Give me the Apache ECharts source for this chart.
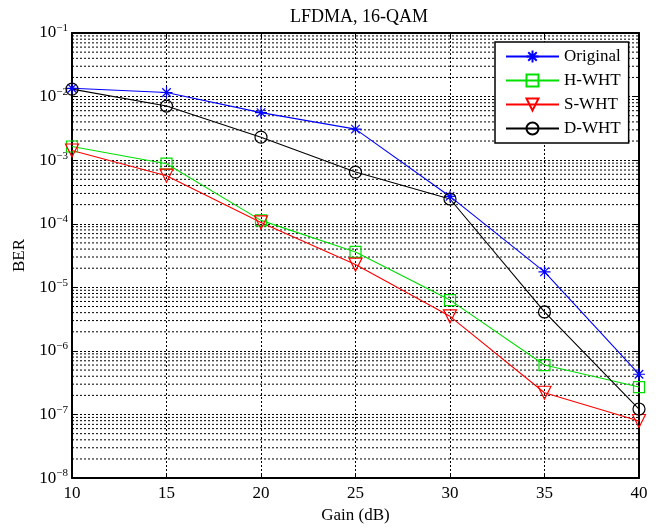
<!DOCTYPE html>
<html>
<head>
<meta charset="utf-8">
<script src="https://cdn.jsdelivr.net/npm/echarts@6/dist/echarts.min.js"></script>
<style>html,body{margin:0;padding:0;background:#fff;}#c{width:657px;height:529px;}</style>
</head>
<body>
<div id="c"></div>
<script>
const gain = [10, 15, 20, 25, 30, 35, 40];
const original = [1.35e-2, 1.16e-2, 5.6e-3, 3.08e-3, 2.69e-4, 1.75e-5, 4.3e-7];
const hWHT = [1.64e-3, 8.8e-4, 1.13e-4, 3.6e-5, 6.3e-6, 6.0e-7, 2.7e-7];
const sWHT = [1.42e-3, 5.7e-4, 1.05e-4, 2.28e-5, 3.5e-6, 2.2e-7, 7.9e-8];
const dWHT = [1.31e-2, 7.1e-3, 2.3e-3, 6.5e-4, 2.45e-4, 4.1e-6, 1.22e-7];
const seriesNames = ['Original', 'H-WHT', 'S-WHT', 'D-WHT'];
const xTicks = [10, 15, 20, 25, 30, 35, 40];
const yExpMin = -8, yExpMax = -1;

const FONT = 'Liberation Serif';
const pair = (arr) => gain.map((g, i) => [g, arr[i]]);

// minor log grid values 2..9 x 10^k
const minorVals = [];
for (let k = yExpMin; k < yExpMax; k++) {
  for (let j = 2; j <= 9; j++) minorVals.push(j * Math.pow(10, k));
}
const xMin = xTicks[0], xMax = xTicks[xTicks.length - 1];

const asterisk = 'path://M0,-10L0,10M-10,0L10,0M-7.07,-7.07L7.07,7.07M-7.07,7.07L7.07,-7.07';
const triDown = 'path://M0,0L10,0L5,8.66Z';

function mkSeries(name, data, color, symbol, size) {
  return {
    name: name, type: 'line', data: pair(data), xAxisIndex: 0, yAxisIndex: 0,
    symbol: symbol, symbolSize: size, showAllSymbol: true,
    color: color,
    lineStyle: { color: color, width: 1.1 },
    itemStyle: { color: 'transparent', borderColor: color, borderWidth: 1.2 },
    emphasis: { disabled: true },
    animation: false, z: 5
  };
}

const minorSeries = minorVals.map(v => ({
  type: 'line', data: [[xMin, v], [xMax, v]], xAxisIndex: 0, yAxisIndex: 0,
  symbol: 'none', silent: true, z: 1, animation: false,
  lineStyle: { color: '#000', type: [2, 2], width: 1 },
  emphasis: { disabled: true }, tooltip: { show: false }
}));

const supMap = (e) => String(e).replace('-', '\u2212');

const chart = echarts.init(document.getElementById('c'), null, { renderer: 'canvas' });
chart.setOption({
  animation: false,
  backgroundColor: '#fff',
  title: {
    text: 'LFDMA, 16-QAM', left: 354, top: 3, textAlign: 'center',
    textStyle: { fontFamily: FONT, fontSize: 18, fontWeight: 'normal', color: '#000' }
  },
  grid: { left: 72, right: 18, top: 33, bottom: 50 },
  legend: {
    data: seriesNames, orient: 'vertical', left: 495, top: 42,
    itemWidth: 53, itemHeight: 15, itemGap: 7,
    padding: [6, 8, 6, 10],
    backgroundColor: '#fff', borderColor: '#000', borderWidth: 1.5,
    textStyle: { fontFamily: FONT, fontSize: 17, color: '#000', lineHeight: 17, padding: [0, 0, 0, 0] },
    selectedMode: false
  },
  xAxis: [{
    type: 'value', min: 10, max: 40, interval: 5, position: 'bottom',
    name: 'Gain (dB)', nameLocation: 'middle', nameGap: 25,
    nameTextStyle: { fontFamily: FONT, fontSize: 17, color: '#000' },
    axisLine: { show: true, onZero: false, lineStyle: { color: '#000', width: 2 } },
    axisTick: { show: true, inside: true, length: 5, lineStyle: { color: '#000' } },
    axisLabel: { fontFamily: FONT, fontSize: 17, color: '#000', margin: 7,
      formatter: (v) => xTicks.includes(v) ? String(v) : '' },
    splitLine: { show: true, lineStyle: { color: '#000', type: [2, 2], width: 1 } }
  }, {
    type: 'value', min: 10, max: 40, interval: 5, position: 'top',
    axisLine: { show: true, onZero: false, lineStyle: { color: '#000', width: 2 } },
    axisTick: { show: true, inside: true, length: 5, lineStyle: { color: '#000' } },
    axisLabel: { show: false }, splitLine: { show: false }
  }],
  yAxis: [{
    type: 'log', logBase: 10, min: Math.pow(10, yExpMin), max: Math.pow(10, yExpMax), interval: 1,
    position: 'left',
    name: 'BER', nameLocation: 'middle', nameGap: 44,
    nameTextStyle: { fontFamily: FONT, fontSize: 17, color: '#000' },
    axisLine: { show: true, onZero: false, lineStyle: { color: '#000', width: 2 } },
    axisTick: { show: true, inside: true, length: 5, lineStyle: { color: '#000' } },
    axisLabel: {
      margin: 4, color: '#000',
      formatter: (v) => '{b|10}{s|' + supMap(Math.round(Math.log10(v))) + '}',
      rich: {
        b: { fontFamily: FONT, fontSize: 17, color: '#000' },
        s: { fontFamily: FONT, fontSize: 11, color: '#000', padding: [0, 0, 9, 0] }
      }
    },
    splitLine: { show: true, lineStyle: { color: '#000', type: [2, 2], width: 1 } }
  }, {
    type: 'log', logBase: 10, min: Math.pow(10, yExpMin), max: Math.pow(10, yExpMax), interval: 1,
    position: 'right',
    axisLine: { show: true, onZero: false, lineStyle: { color: '#000', width: 2 } },
    axisTick: { show: true, inside: true, length: 5, lineStyle: { color: '#000' } },
    axisLabel: { show: false }, splitLine: { show: false }
  }],
  series: minorSeries.concat([
    mkSeries('Original', original, '#0000ff', asterisk, 12),
    mkSeries('H-WHT', hWHT, '#00e000', 'rect', 11),
    mkSeries('S-WHT', sWHT, '#ff0000', triDown, 13),
    mkSeries('D-WHT', dWHT, '#000000', 'circle', 12)
  ])
});
</script>
</body>
</html>
